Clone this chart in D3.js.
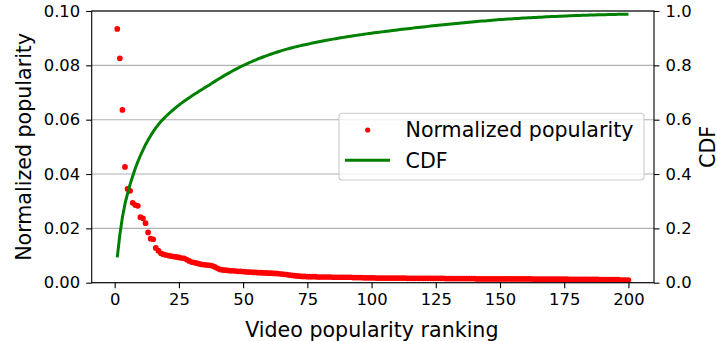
<!DOCTYPE html>
<html>
<head>
<meta charset="utf-8">
<script src="https://cdn.jsdelivr.net/npm/d3@7"></script>
<style>
  html, body { margin: 0; padding: 0; background: #fff; }
  svg { display: block; font-family: "DejaVu Sans", sans-serif; }
</style>
</head>
<body>
<svg id="chart" width="717" height="341"></svg>
<script>
// Normalized popularity of each video, ranked 1..200
const popularity = [
  0.0934, 0.0826, 0.0636, 0.0426, 0.0345, 0.0338, 0.0294, 0.0286, 0.0283, 0.0241,
  0.0237, 0.0219, 0.0185, 0.0162, 0.0160, 0.0128, 0.0118, 0.0108, 0.0104, 0.0102,
  0.0100, 0.0098, 0.0096, 0.0095, 0.0093, 0.0091, 0.0090, 0.0085, 0.0080, 0.0076,
  0.0074, 0.0072, 0.0069, 0.0067, 0.0066, 0.0065, 0.0064, 0.0062, 0.0058, 0.0053,
  0.0049, 0.0047, 0.0046, 0.0045, 0.0044, 0.0044, 0.0043, 0.0042, 0.0042, 0.0041,
  0.0040, 0.0039, 0.0039, 0.0038, 0.0038, 0.0037, 0.0037, 0.0036, 0.0036, 0.0035,
  0.0035, 0.0034, 0.0034, 0.0033, 0.0032, 0.0031, 0.0030, 0.0028, 0.0027, 0.0026,
  0.0025, 0.0024, 0.0023, 0.0023, 0.0022, 0.0022, 0.0022, 0.0022, 0.0021, 0.0021,
  0.0021, 0.0021, 0.0021, 0.0021, 0.0020, 0.0020, 0.0020, 0.0020, 0.0020, 0.0020,
  0.0020, 0.0020, 0.0019, 0.0019, 0.0019, 0.0019, 0.0018, 0.0018, 0.0018, 0.0018,
  0.0018, 0.0017, 0.0017, 0.0017, 0.0017, 0.0017, 0.0017, 0.0017, 0.0017, 0.0017,
  0.0017, 0.0017, 0.0017, 0.0016, 0.0016, 0.0016, 0.0016, 0.0016, 0.0016, 0.0016,
  0.0016, 0.0016, 0.0016, 0.0016, 0.0016, 0.0016, 0.0016, 0.0016, 0.0015, 0.0015,
  0.0015, 0.0015, 0.0015, 0.0015, 0.0015, 0.0015, 0.0015, 0.0015, 0.0015, 0.0015,
  0.0014, 0.0014, 0.0014, 0.0014, 0.0014, 0.0014, 0.0014, 0.0014, 0.0014, 0.0014,
  0.0014, 0.0014, 0.0014, 0.0014, 0.0014, 0.0014, 0.0014, 0.0014, 0.0014, 0.0014,
  0.0014, 0.0014, 0.0013, 0.0013, 0.0013, 0.0013, 0.0013, 0.0013, 0.0013, 0.0013,
  0.0013, 0.0013, 0.0013, 0.0013, 0.0013, 0.0013, 0.0012, 0.0012, 0.0012, 0.0012,
  0.0012, 0.0012, 0.0012, 0.0012, 0.0012, 0.0012, 0.0012, 0.0012, 0.0011, 0.0011,
  0.0011, 0.0011, 0.0011, 0.0011, 0.0011, 0.0011, 0.0010, 0.0010, 0.0010, 0.0010
];

// Cumulative share of views up to each rank
const cdf = [
  0.0930, 0.1760, 0.2400, 0.2900, 0.3280, 0.3620, 0.3920, 0.4200, 0.4450, 0.4680,
  0.4880, 0.5080, 0.5250, 0.5410, 0.5560, 0.5700, 0.5820, 0.5930, 0.6030, 0.6125,
  0.6215, 0.6301, 0.6383, 0.6461, 0.6536, 0.6608, 0.6677, 0.6744, 0.6809, 0.6872,
  0.6934, 0.6995, 0.7055, 0.7114, 0.7173, 0.7231, 0.7289, 0.7350, 0.7410, 0.7469,
  0.7527, 0.7584, 0.7640, 0.7695, 0.7748, 0.7800, 0.7851, 0.7900, 0.7948, 0.7994,
  0.8038, 0.8081, 0.8123, 0.8164, 0.8204, 0.8243, 0.8280, 0.8316, 0.8351, 0.8385,
  0.8418, 0.8450, 0.8481, 0.8511, 0.8540, 0.8568, 0.8595, 0.8621, 0.8646, 0.8670,
  0.8693, 0.8715, 0.8737, 0.8758, 0.8779, 0.8799, 0.8819, 0.8838, 0.8857, 0.8876,
  0.8894, 0.8912, 0.8930, 0.8947, 0.8964, 0.8981, 0.8997, 0.9013, 0.9029, 0.9044,
  0.9059, 0.9074, 0.9089, 0.9103, 0.9117, 0.9131, 0.9145, 0.9158, 0.9171, 0.9184,
  0.9196, 0.9208, 0.9220, 0.9232, 0.9244, 0.9256, 0.9268, 0.9280, 0.9292, 0.9304,
  0.9315, 0.9326, 0.9337, 0.9348, 0.9359, 0.9370, 0.9381, 0.9392, 0.9403, 0.9414,
  0.9424, 0.9434, 0.9444, 0.9454, 0.9464, 0.9474, 0.9484, 0.9494, 0.9504, 0.9514,
  0.9523, 0.9532, 0.9541, 0.9550, 0.9559, 0.9568, 0.9577, 0.9586, 0.9595, 0.9604,
  0.9612, 0.9620, 0.9628, 0.9636, 0.9644, 0.9652, 0.9660, 0.9668, 0.9676, 0.9684,
  0.9690, 0.9696, 0.9702, 0.9708, 0.9714, 0.9720, 0.9726, 0.9732, 0.9738, 0.9744,
  0.9749, 0.9754, 0.9759, 0.9764, 0.9769, 0.9774, 0.9779, 0.9784, 0.9789, 0.9794,
  0.9798, 0.9802, 0.9806, 0.9810, 0.9814, 0.9818, 0.9822, 0.9826, 0.9830, 0.9834,
  0.9837, 0.9840, 0.9843, 0.9846, 0.9849, 0.9852, 0.9855, 0.9858, 0.9861, 0.9864,
  0.9866, 0.9868, 0.9870, 0.9872, 0.9874, 0.9876, 0.9878, 0.9880, 0.9882, 0.9884
];

const xTicks = [0, 25, 50, 75, 100, 125, 150, 175, 200];
const leftTicks = [0.00, 0.02, 0.04, 0.06, 0.08, 0.10];
const rightTicks = [0.0, 0.2, 0.4, 0.6, 0.8, 1.0];
const seriesNames = ["Normalized popularity", "CDF"];

const ranks = popularity.map((_, i) => i + 1);

const plot = { left: 91.7, right: 654, top: 11, bottom: 282.7 };
const svg = d3.select("#chart");

const x = d3.scaleLinear().domain([-8.95, 209.95]).range([plot.left, plot.right]);
const yL = d3.scaleLinear().domain([0, 0.1]).range([plot.bottom, plot.top]);
const yR = d3.scaleLinear().domain([0, 1]).range([plot.bottom, plot.top]);

// horizontal grid from the CDF axis
svg.append("g")
  .selectAll("line")
  .data(rightTicks)
  .join("line")
  .attr("x1", plot.left).attr("x2", plot.right)
  .attr("y1", d => yR(d)).attr("y2", d => yR(d))
  .attr("stroke", "#b0b0b0").attr("stroke-width", 1.1);

// clip for the data
svg.append("clipPath").attr("id", "plotclip")
  .append("rect")
  .attr("x", plot.left).attr("y", plot.top)
  .attr("width", plot.right - plot.left).attr("height", plot.bottom - plot.top);

const data = svg.append("g").attr("clip-path", "url(#plotclip)");

// popularity points
data.append("g")
  .selectAll("circle")
  .data(ranks)
  .join("circle")
  .attr("cx", r => x(r))
  .attr("cy", r => yL(popularity[r - 1]))
  .attr("r", 2.85)
  .attr("fill", "#ff0000");

// CDF curve
data.append("path")
  .datum(ranks)
  .attr("fill", "none")
  .attr("stroke", "#008000")
  .attr("stroke-width", 3)
  .attr("stroke-linejoin", "round")
  .attr("d", d3.line().x(r => x(r)).y(r => yR(cdf[r - 1])));

// axes
const tickFont = "16.4px";
const gx = svg.append("g")
  .attr("transform", `translate(0,${plot.bottom})`)
  .call(d3.axisBottom(x).tickValues(xTicks).tickFormat(d3.format("d")).tickSizeOuter(0).tickSize(5.5).tickPadding(5));
const gl = svg.append("g")
  .attr("transform", `translate(${plot.left},0)`)
  .call(d3.axisLeft(yL).tickValues(leftTicks).tickFormat(d3.format(".2f")).tickSizeOuter(0).tickSize(5.5).tickPadding(6));
const gr = svg.append("g")
  .attr("transform", `translate(${plot.right},0)`)
  .call(d3.axisRight(yR).tickValues(rightTicks).tickFormat(d3.format(".1f")).tickSizeOuter(0).tickSize(5.5).tickPadding(6));

[gx, gl, gr].forEach(g => {
  g.select(".domain").remove();
  g.selectAll(".tick line").attr("stroke", "#000").attr("stroke-width", 1.1);
  g.selectAll(".tick text")
    .attr("fill", "#000")
    .style("font-family", "DejaVu Sans")
    .style("font-size", tickFont);
});

// frame
svg.append("rect")
  .attr("x", plot.left).attr("y", plot.top)
  .attr("width", plot.right - plot.left).attr("height", plot.bottom - plot.top)
  .attr("fill", "none").attr("stroke", "#000").attr("stroke-width", 1.1);

// axis titles
const labelFont = "20.6px";
svg.append("text")
  .attr("x", (plot.left + plot.right) / 2 - 1).attr("y", 336.5)
  .attr("text-anchor", "middle")
  .style("font-size", labelFont)
  .text("Video popularity ranking");

svg.append("text")
  .attr("transform", `translate(31,${(plot.top + plot.bottom) / 2}) rotate(-90)`)
  .attr("text-anchor", "middle")
  .style("font-size", labelFont)
  .text("Normalized popularity");

svg.append("text")
  .attr("transform", `translate(714.5,${(plot.top + plot.bottom) / 2}) rotate(-90)`)
  .attr("text-anchor", "middle")
  .style("font-size", labelFont)
  .text("CDF");

// legend
const legend = svg.append("g");
legend.append("rect")
  .attr("x", 339).attr("y", 113.3)
  .attr("width", 305).attr("height", 66.7)
  .attr("rx", 3).attr("ry", 3)
  .attr("fill", "#fff").attr("fill-opacity", 0.8)
  .attr("stroke", "#cccccc").attr("stroke-width", 1.1);

legend.append("circle")
  .attr("cx", 367.7).attr("cy", 130).attr("r", 2.6)
  .attr("fill", "#ff0000");
legend.append("line")
  .attr("x1", 345).attr("x2", 390).attr("y1", 160.3).attr("y2", 160.3)
  .attr("stroke", "#008000").attr("stroke-width", 3);

legend.selectAll("text.lbl")
  .data(seriesNames)
  .join("text")
  .attr("class", "lbl")
  .attr("x", 405.5)
  .attr("y", (d, i) => 137.3 + i * 30.3)
  .style("font-size", labelFont)
  .text(d => d);
</script>
</body>
</html>
